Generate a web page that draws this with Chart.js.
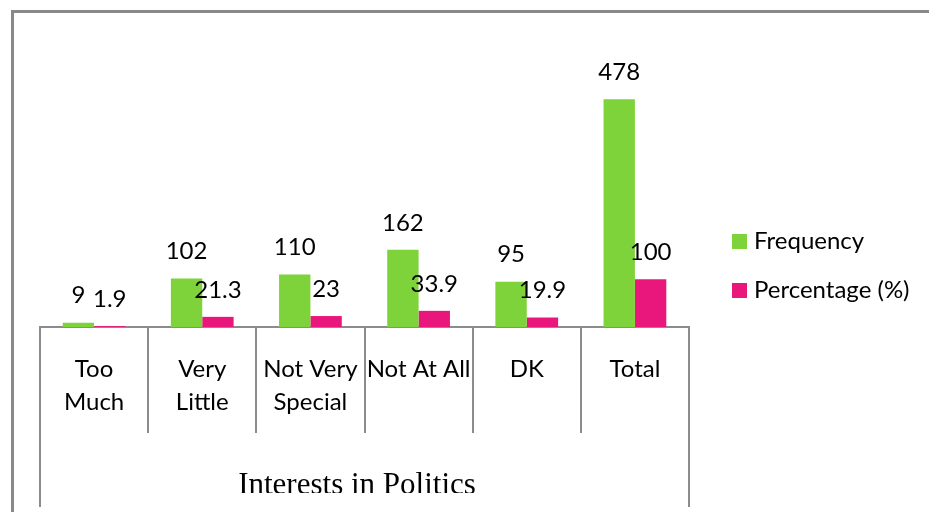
<!DOCTYPE html>
<html lang="en">
<head>
    <meta charset="UTF-8">
    <title>Interests in Politics</title>
    <script src="https://cdn.jsdelivr.net/npm/chart.js"></script>
    <style>
        body {
            margin: 0;
            background: #fff;
        }
        canvas {
            display: block;
        }
    </style>
</head>
<body>
    <canvas id="chart" width="929" height="512"></canvas>

    <script>
        const categories = [['Too', 'Much'], ['Very', 'Little'], ['Not Very', 'Special'], ['Not At All'], ['DK'], ['Total']];
        const frequency = [9, 102, 110, 162, 95, 478];
        const percentage = [1.9, 21.3, 23, 33.9, 19.9, 100];
        const seriesNames = ['Frequency', 'Percentage (%)'];
        const axisTitle = 'Interests in Politics';

        const green = 'rgb(126, 210, 58)';
        const pink = 'rgb(233, 23, 124)';
        const lineGray = '#8c8c8c';
        const labelFont = '24px Lato, "Open Sans", sans-serif';

        const extras = {
            id: 'extras',
            afterDraw(chart) {
                const ctx = chart.ctx;
                const area = chart.chartArea;
                const x = chart.scales.x;
                ctx.save();

                // frame of the picture
                ctx.strokeStyle = '#898989';
                ctx.lineWidth = 3;
                ctx.beginPath();
                ctx.moveTo(12.5, 512);
                ctx.lineTo(12.5, 11.5);
                ctx.lineTo(929, 11.5);
                ctx.stroke();

                // outer lines of the category table
                ctx.strokeStyle = lineGray;
                ctx.lineWidth = 2;
                ctx.beginPath();
                ctx.moveTo(area.left, area.bottom);
                ctx.lineTo(area.left, 507);
                ctx.moveTo(area.right, area.bottom);
                ctx.lineTo(area.right, 507);
                ctx.stroke();

                // category labels
                ctx.fillStyle = '#000';
                ctx.font = labelFont;
                ctx.textAlign = 'center';
                ctx.textBaseline = 'middle';
                categories.forEach((lines, i) => {
                    const cx = x.getPixelForValue(i);
                    lines.forEach((t, j) => ctx.fillText(t, cx, 369 + j * 33));
                });

                // data labels
                chart.data.datasets.forEach((ds, d) => {
                    chart.getDatasetMeta(d).data.forEach((bar, i) => {
                        ctx.fillText(String(ds.data[i]), bar.x, bar.y - 27);
                    });
                });

                // legend
                ctx.textAlign = 'left';
                [green, pink].forEach((c, i) => {
                    const ly = 241 + i * 49;
                    ctx.fillStyle = c;
                    ctx.fillRect(732, ly - 7, 15, 15);
                    ctx.fillStyle = '#000';
                    ctx.fillText(seriesNames[i], 754, ly);
                });

                // axis title, clipped at the bottom like the source
                ctx.beginPath();
                ctx.rect(0, 0, 929, 493);
                ctx.clip();
                ctx.font = '31px "Liberation Serif", "Times New Roman", serif';
                ctx.textAlign = 'center';
                ctx.textBaseline = 'alphabetic';
                ctx.fillText(axisTitle, 357, 494);

                ctx.restore();
            }
        };

        new Chart(document.getElementById('chart'), {
            type: 'bar',
            data: {
                labels: categories,
                datasets: [
                    { label: seriesNames[0], data: frequency, backgroundColor: green },
                    { label: seriesNames[1], data: percentage, backgroundColor: pink }
                ]
            },
            options: {
                responsive: false,
                animation: false,
                events: [],
                layout: {
                    padding: { left: 40, right: 240, top: 41, bottom: 0 }
                },
                datasets: {
                    bar: { categoryPercentage: 0.58, barPercentage: 1 }
                },
                plugins: {
                    legend: { display: false },
                    tooltip: { enabled: false }
                },
                scales: {
                    x: {
                        offset: true,
                        grid: {
                            offset: true,
                            drawOnChartArea: false,
                            drawTicks: true,
                            tickLength: 106,
                            color: lineGray,
                            lineWidth: 2
                        },
                        border: { display: true, color: lineGray, width: 2 },
                        ticks: { display: false },
                        afterFit(scale) {
                            scale.height = 185;
                        }
                    },
                    y: {
                        display: false,
                        min: 0,
                        max: 600
                    }
                }
            },
            plugins: [extras]
        });
    </script>
</body>
</html>
